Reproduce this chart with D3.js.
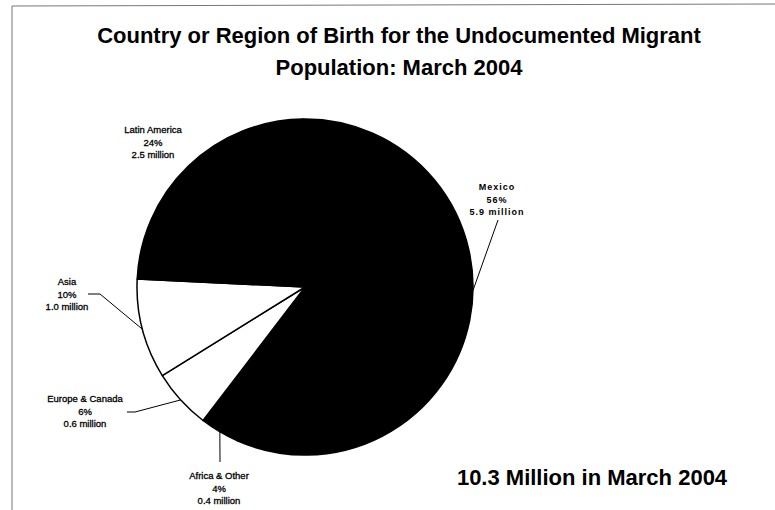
<!DOCTYPE html>
<html>
<head>
<meta charset="utf-8">
<script src="https://cdn.jsdelivr.net/npm/d3@7"></script>
<style>
body { margin: 0; background: #fff; }
text { font-family: "Liberation Sans", Arial, sans-serif; fill: #000; }
.title { font-size: 22px; font-weight: bold; }
.lbl { font-size: 9.5px; stroke: #000; stroke-width: 0.3px; }
.lblBold { font-size: 9px; font-weight: bold; letter-spacing: 1px; }
</style>
</head>
<body>
<div id="chart"></div>
<script>
// data (millions), in drawing order clockwise from the top
var regions = ['Mexico', 'Africa & Other', 'Europe & Canada', 'Asia', 'Latin America'];
var millions = [5.9, 0.4, 0.6, 1.0, 2.5];
var percents = ['56%', '4%', '6%', '10%', '24%'];
var millionLabels = ['5.9 million', '0.4 million', '0.6 million', '1.0 million', '2.5 million'];
var titleLines = ['Country or Region of Birth for the Undocumented Migrant', 'Population: March 2004'];
var totalNote = '10.3 Million in March 2004';

var svgWidth = 775,
svgHeight = 510;

var cx = 305, cy = 287, radius = 168;

var fills = ['#000', '#000', '#fff', '#fff', '#000'];

// label layout: centre x, first baseline, leader start (null = no leader),
// shift = how far (fraction of slice) the leader end moves from the middle
var labelPos = [
	{x: 497, y: 190, bold: true, lead: [[498, 220]], shift: -0.05},
	{x: 219, y: 479, lead: [[220, 462]], shift: 0},
	{x: 85, y: 402, lead: [[127, 412], [135, 412]], shift: 0},
	{x: 67, y: 285, lead: [[88, 294], [100, 294]], shift: 0},
	{x: 153, y: 133, lead: null, shift: 0}
];

var svg = d3.select('#chart')
	.append('svg')
	.attr('width', svgWidth)
	.attr('height', svgHeight);

// scanned frame
svg.append('path')
	.attr('d', 'M12,510 L12,6 L775,4')
	.attr('fill', 'none')
	.attr('stroke', '#777')
	.attr('stroke-width', 1);

svg.selectAll('.title')
	.data(titleLines)
	.enter()
	.append('text')
	.attr('class', 'title')
	.attr('x', 399)
	.attr('y', (d, i) => 43 + i * 31.5)
	.attr('text-anchor', 'middle')
	.text(d => d);

var pie = d3.pie()
	.sort(null)
	.startAngle(-0.7 * Math.PI / 180)
	.endAngle(2 * Math.PI - 0.7 * Math.PI / 180)
	.value(d => d);

var arcs = pie(millions);

var arc = d3.arc()
	.innerRadius(0)
	.outerRadius(radius);

var chart1 = svg.append('g')
	.attr('transform', `translate(${cx},${cy})`);

chart1.selectAll('path')
	.data(arcs)
	.enter()
	.append('path')
	.attr('d', arc)
	.attr('fill', (d, i) => fills[i])
	.attr('stroke', '#000')
	.attr('stroke-width', 1.5)
	.attr('stroke-linejoin', 'round');

// leader lines
function edgePoint(d, shift) {
	var a = (d.startAngle + d.endAngle) / 2 + shift * (d.endAngle - d.startAngle);
	return [cx + radius * Math.sin(a), cy - radius * Math.cos(a)];
}

arcs.forEach((d, i) => {
	var p = labelPos[i];
	if (!p.lead) return;
	var pts = p.lead.concat([edgePoint(d, p.shift)]);
	svg.append('path')
		.attr('d', d3.line()(pts))
		.attr('fill', 'none')
		.attr('stroke', '#000')
		.attr('stroke-width', 1);
});

// slice labels
regions.forEach((r, i) => {
	var p = labelPos[i];
	var t = svg.append('text')
		.attr('class', p.bold ? 'lblBold' : 'lbl')
		.attr('text-anchor', 'middle');
	[r, percents[i], millionLabels[i]].forEach((s, j) => {
		t.append('tspan')
			.attr('x', p.x)
			.attr('y', p.y + j * 12.7)
			.text(s);
	});
});

svg.append('text')
	.attr('class', 'title')
	.attr('x', 592)
	.attr('y', 485)
	.attr('text-anchor', 'middle')
	.text(totalNote);
</script>
</body>
</html>
